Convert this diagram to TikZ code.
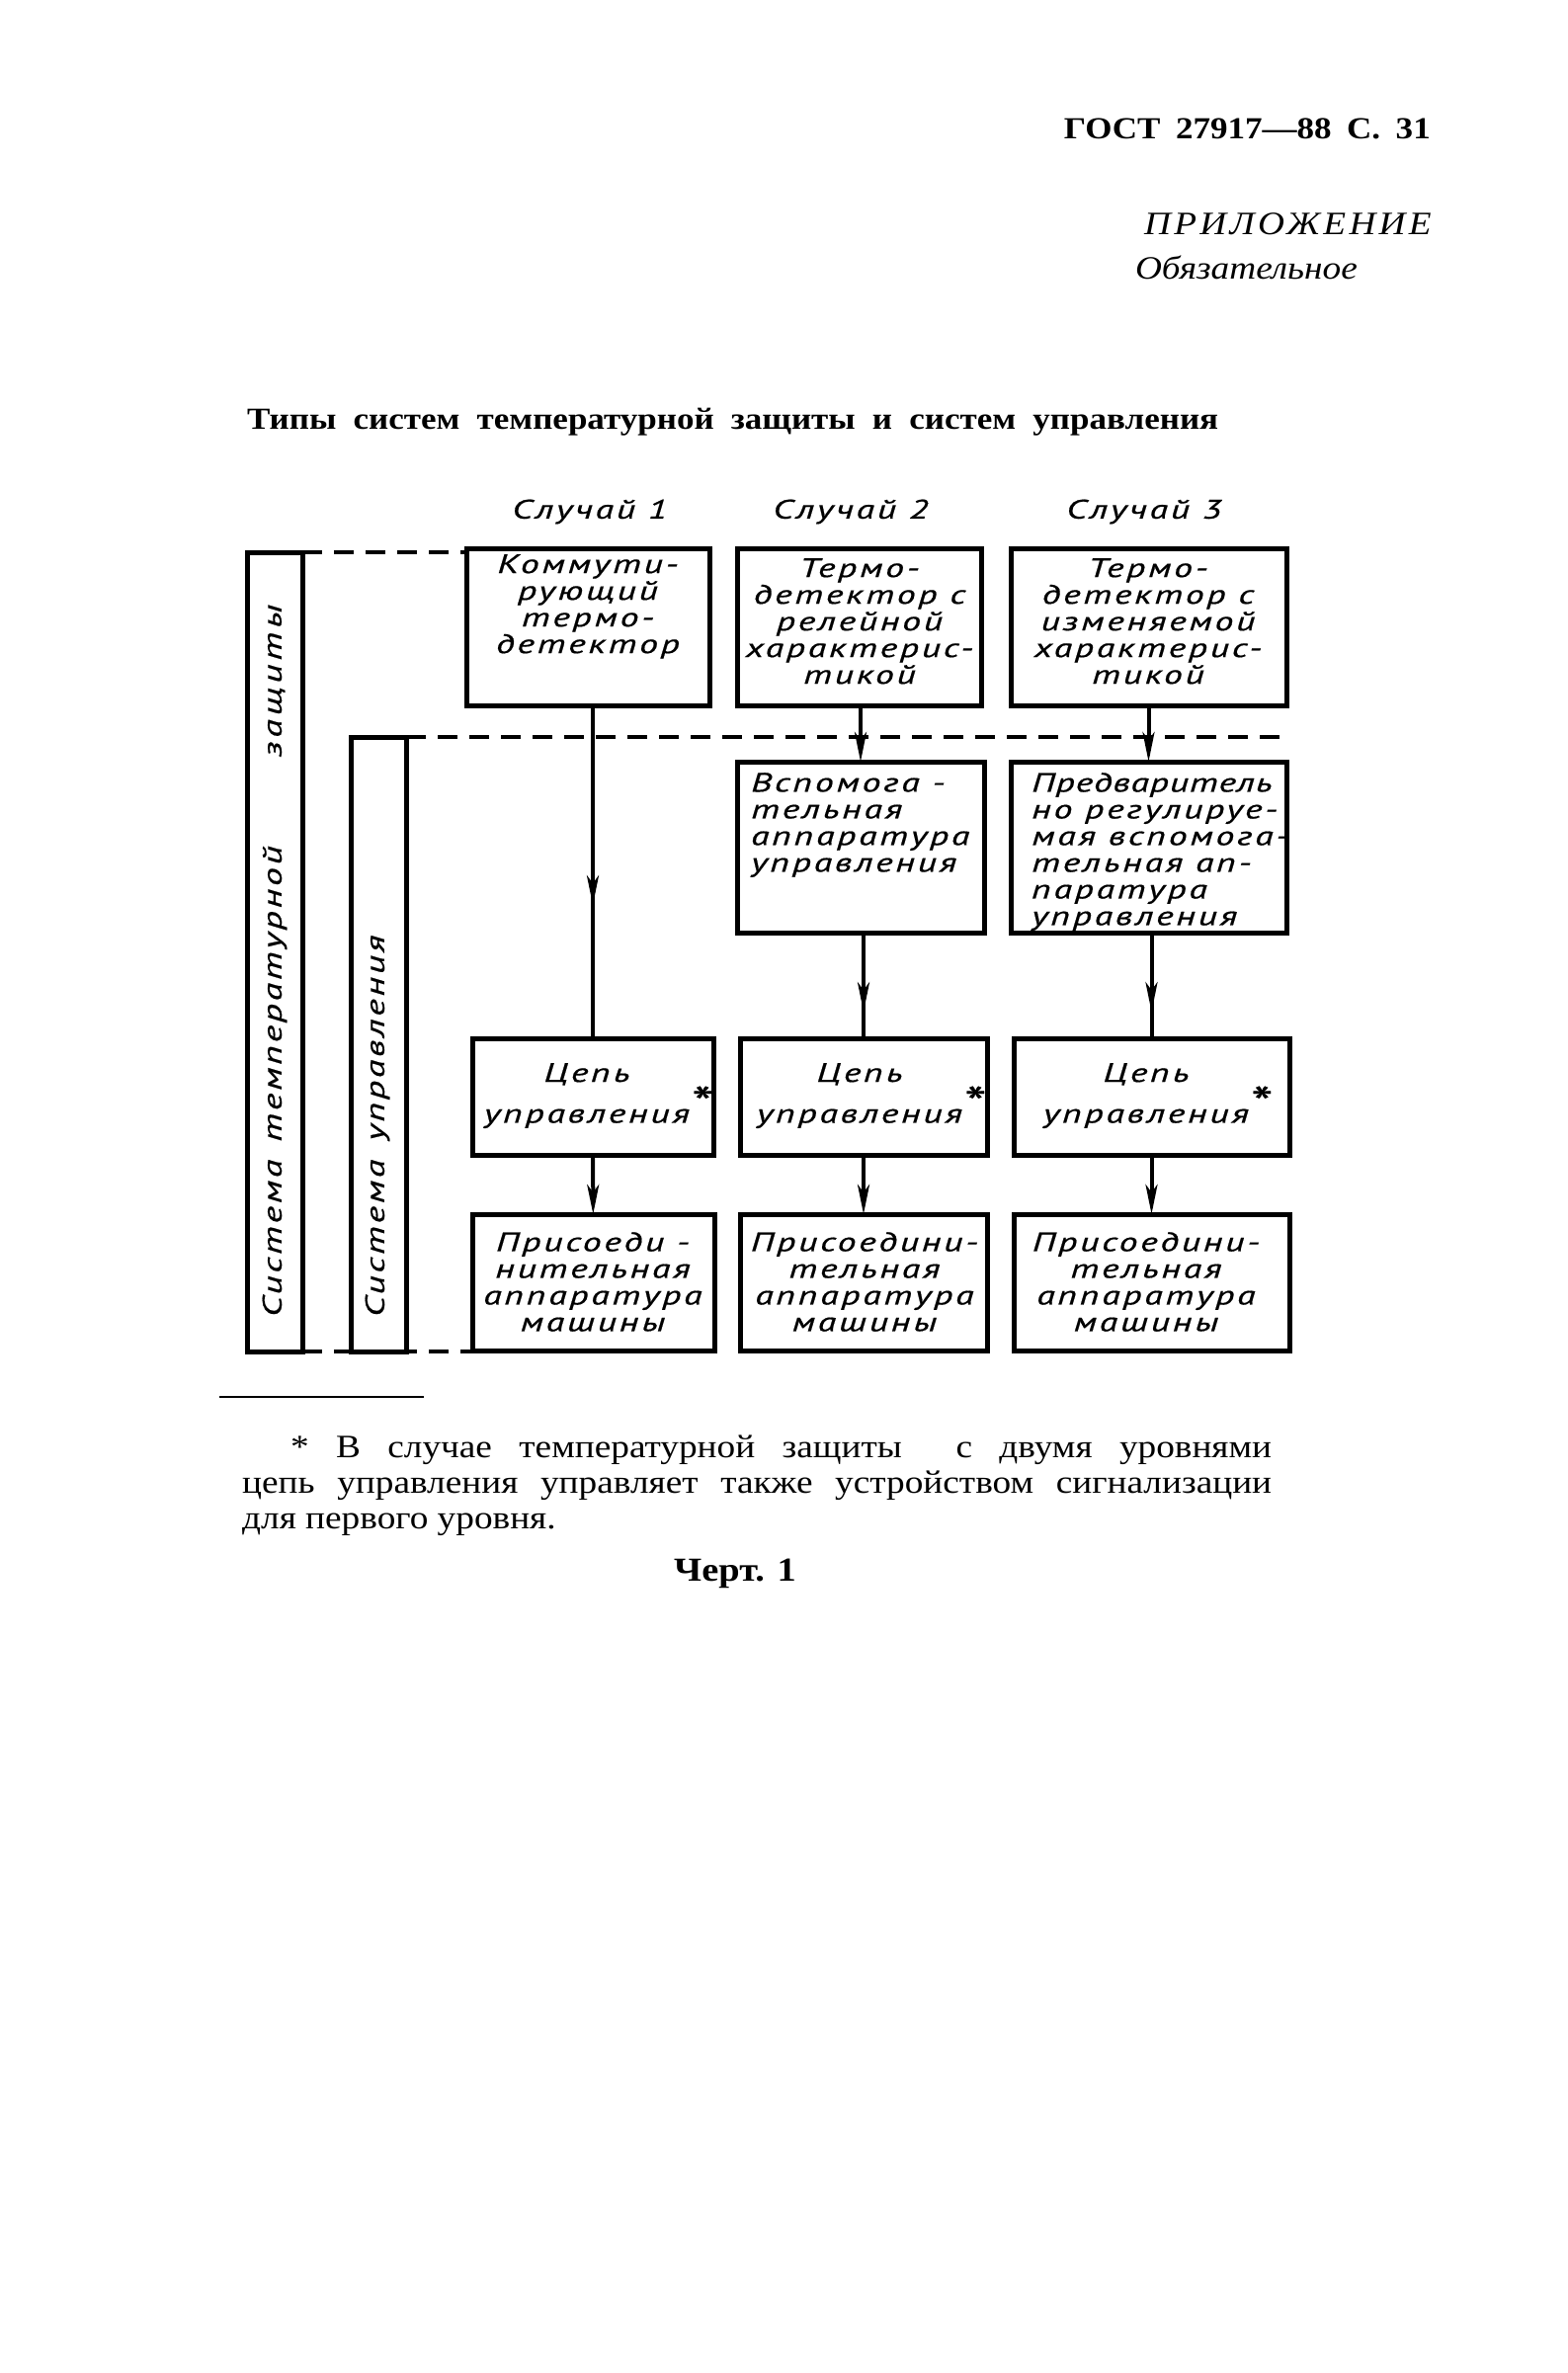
\documentclass[tikz,border=0pt]{standalone}
\usepackage{fontspec}
\setmainfont{Liberation Serif}
\newfontfamily\serifw{Liberation Serif}[FakeStretch=1.13]
\newfontfamily\gost{PT Sans}[FakeStretch=1.4,LetterSpace=10,FakeBold=0.6]
\usetikzlibrary{arrows.meta,decorations.markings}

\tikzset{
  box/.style={draw, line width=5pt, inner sep=0pt, outer sep=0pt, anchor=north west},
  gtxt/.style={font=\gost\itshape\fontsize{27}{27}\selectfont, inner sep=0pt, anchor=north},
  conn/.style={line width=4pt},
  dashline/.style={line width=4pt, dash pattern=on 20pt off 12pt},
  endtip/.style={-{Stealth[length=30pt,width=12pt,inset=8pt]}},
  tipmark/.style={postaction={decorate}, decoration={markings, mark=at position #1 with {\arrow{Stealth[length=30pt,width=12pt,inset=8pt]}}}},
  hdr/.style={inner sep=0pt, anchor=base},
}
\newcommand\gstar{\rlap{\raisebox{4pt}{\fontsize{46}{46}\selectfont*}}}

\begin{document}
\begin{tikzpicture}[x=1pt,y=-1pt]
\useasboundingbox (0,0) rectangle (1587,2402);

% header
\node[hdr, anchor=base east, font=\serifw\bfseries\fontsize{31}{31}\selectfont] (gost) at (1448,140) {\makebox[371pt][s]{ГОСТ 27917—88 С. 31}};
\node[hdr, anchor=base east, font=\serifw\itshape\fontsize{33}{33}\selectfont] (app) at (1449,237) {\addfontfeature{LetterSpace=10}ПРИЛОЖЕНИЕ};
\node[hdr, anchor=base east, font=\serifw\itshape\fontsize{33}{33}\selectfont] (obz) at (1374,282) {Обязательное};
\node[hdr, anchor=base west, font=\serifw\bfseries\fontsize{31}{31}\selectfont] (title) at (250,434) {\makebox[983pt][s]{Типы систем температурной защиты и систем управления}};

% case labels
\node[gtxt, anchor=center] (h1) at (597,518) {Случай 1};
\node[gtxt, anchor=center] (h2) at (861,518) {Случай 2};
\node[gtxt, anchor=center] (h3) at (1158,518) {Случай 3};

% strips
\node[box, minimum width=56pt, minimum height=809pt] (s1) at (250,559) {};
\node[box, minimum width=56pt, minimum height=622pt] (s2) at (355,746) {};
\node[gtxt, rotate=90, anchor=west] (s1t) at (278,1333) {Система\hspace{18pt}температурной\hspace{90pt}{\addfontfeature{LetterSpace=14}защиты}};
\node[gtxt, rotate=90, anchor=west] (s2t) at (382,1333) {Система\hspace{19pt}управления};

% boxes
\node[box, minimum width=246pt, minimum height=159pt] (k1) at (472,555) {};
\node[box, minimum width=247pt, minimum height=159pt] (k2) at (746,555) {};
\node[box, minimum width=279pt, minimum height=159pt] (k3) at (1023,555) {};
\node[box, minimum width=250pt, minimum height=173pt] (b2) at (746,771) {};
\node[box, minimum width=279pt, minimum height=173pt] (b3) at (1023,771) {};
\node[box, minimum width=244pt, minimum height=118pt] (c1) at (478,1051) {};
\node[box, minimum width=250pt, minimum height=118pt] (c2) at (749,1051) {};
\node[box, minimum width=279pt, minimum height=118pt] (c3) at (1026,1051) {};
\node[box, minimum width=245pt, minimum height=138pt] (d1) at (478,1229) {};
\node[box, minimum width=250pt, minimum height=138pt] (d2) at (749,1229) {};
\node[box, minimum width=279pt, minimum height=138pt] (d3) at (1026,1229) {};

% box texts
\node[gtxt, align=center] (k1t) at (595,561) {Коммути-\\рующий\\термо-\\детектор};
\node[gtxt, align=center] (k2t) at (870,565) {Термо-\\детектор с\\релейной\\характерис-\\тикой};
\node[gtxt, align=center] (k3t) at (1162,565) {Термо-\\детектор с\\изменяемой\\характерис-\\тикой};
\node[gtxt, anchor=north west, align=left] (b2t) at (760,782) {Вспомога -\\тельная\\аппаратура\\управления};
\node[gtxt, anchor=north west, align=left] (b3t) at (1044,782) {\addfontfeature{LetterSpace=3}Предваритель\\но регулируе-\\мая вспомога-\\тельная ап-\\паратура\\управления};
\node[gtxt, align=center] (c1t) at (594,1076) {Цепь\\управления\gstar};
\node[gtxt, align=center] (c2t) at (870,1076) {Цепь\\управления\gstar};
\node[gtxt, align=center] (c3t) at (1160,1076) {Цепь\\управления\gstar};
\node[gtxt, align=center] (d1t) at (600,1247) {Присоеди -\\нительная\\аппаратура\\машины};
\node[gtxt, align=center] (d2t) at (875,1247) {Присоедини-\\тельная\\аппаратура\\машины};
\node[gtxt, align=center] (d3t) at (1160,1247) {Присоедини-\\тельная\\аппаратура\\машины};

% dashed boundary lines
\coordinate (dend) at (1302,746);
\draw[dashline] (s1.north east) -- (s1.north east -| k1.west);
\draw[dashline] (s2.north east) -- (dend);
\draw[dashline] (s1.south east) -- (s1.south east -| d1.west);

% connectors
\draw[conn, tipmark=0.6] (c1.north |- k1.south) -- (c1.north);
\draw[conn, endtip] (b2.north |- k2.south) -- (b2.north);
\draw[conn, endtip] (b3.north |- k3.south) -- (b3.north);
\draw[conn, tipmark=0.75] (c2.north |- b2.south) -- (c2.north);
\draw[conn, tipmark=0.75] (c3.north |- b3.south) -- (c3.north);
\draw[conn, endtip] (c1) -- (d1);
\draw[conn, endtip] (c2) -- (d2);
\draw[conn, endtip] (c3) -- (d3);

% footnote
\coordinate (r1) at (222,1414);
\coordinate (r2) at (429,1414);
\draw[line width=2.5pt] (r1) -- (r2);
\node[hdr, anchor=base west, font=\serifw\fontsize{33}{33}\selectfont] (f1) at (294,1475) {\makebox[993pt][s]{* В случае температурной защиты\ \ с двумя уровнями}};
\node[hdr, anchor=base west, font=\serifw\fontsize{33}{33}\selectfont] (f2) at (245,1511) {\makebox[1042pt][s]{цепь управления управляет также устройством сигнализации}};
\node[hdr, anchor=base west, font=\serifw\fontsize{33}{33}\selectfont] (f3) at (245,1547) {для первого уровня.};
\node[hdr, anchor=base, font=\serifw\bfseries\fontsize{34}{34}\selectfont] (chert) at (744,1600) {Черт. 1};
\end{tikzpicture}
\end{document}
